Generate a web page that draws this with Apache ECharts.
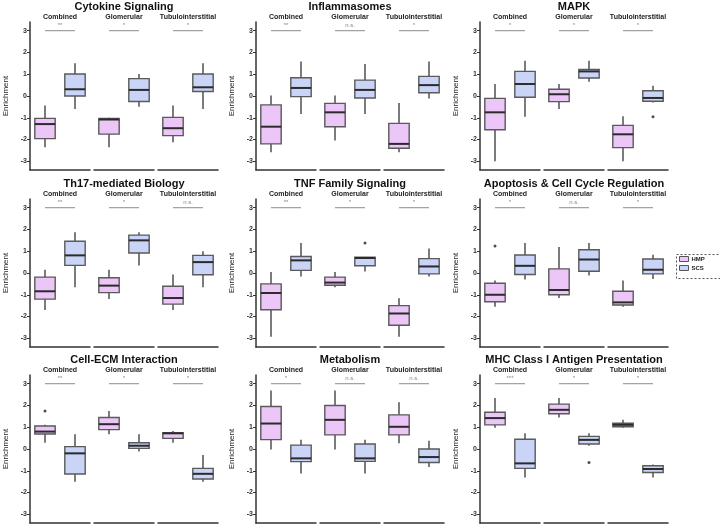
<!DOCTYPE html>
<html style="height: 100%">
<head>
<meta charset="utf-8">
<script src="https://cdn.jsdelivr.net/npm/echarts@6/dist/echarts.min.js"></script>
</head>
<body style="height: 100%; margin: 0; background: #fff">
<div id="container" style="width: 720px; height: 526px"></div>
<script type="text/javascript">
// panel titles, facets, groups
var panelTitles = ['Cytokine Signaling', 'Inflammasomes', 'MAPK',
    'Th17-mediated Biology', 'TNF Family Signaling', 'Apoptosis & Cell Cycle Regulation',
    'Cell-ECM Interaction', 'Metabolism', 'MHC Class I Antigen Presentation'];
var facets = ['Combined', 'Glomerular', 'Tubulointerstitial'];
var groups = ['HMP', 'SCS'];
var yTicks = [-3, -2, -1, 0, 1, 2, 3];

// box stats per facet: [min, q1, median, q3, max]
var cytokineHMP = [[-2.36, -1.96, -1.29, -1.03, -0.44], [-2.36, -1.75, -1.08, -1.03, -1.0], [-2.13, -1.82, -1.48, -0.98, -0.44]];
var cytokineSCS = [[-0.6, 0.0, 0.31, 1.01, 1.5], [-0.49, -0.25, 0.28, 0.8, 1.01], [-0.6, 0.21, 0.4, 1.01, 1.5]];
var inflamHMP = [[-2.59, -2.2, -1.41, -0.41, 0.02], [-2.05, -1.41, -0.75, -0.34, 0.02], [-2.59, -2.4, -2.2, -1.26, -0.32]];
var inflamSCS = [[-0.83, -0.03, 0.37, 0.84, 1.58], [-0.83, -0.09, 0.28, 0.73, 1.47], [-0.11, 0.15, 0.5, 0.9, 1.58]];
var mapkHMP = [[-3.0, -1.55, -0.75, -0.11, 0.55], [-0.6, -0.26, 0.08, 0.31, 0.55], [-3.0, -2.37, -1.76, -1.35, -0.93]];
var mapkSCS = [[-0.95, -0.06, 0.55, 1.13, 1.62], [0.66, 0.83, 1.13, 1.22, 1.62], [-0.3, -0.24, -0.09, 0.24, 0.47]];
var th17HMP = [[-1.7, -1.2, -0.84, -0.19, 0.15], [-1.2, -0.9, -0.58, -0.22, 0.15], [-1.7, -1.43, -1.15, -0.61, -0.07]];
var th17SCS = [[-0.66, 0.35, 0.81, 1.46, 1.87], [0.35, 0.92, 1.5, 1.74, 1.87], [-0.66, -0.08, 0.5, 0.81, 1.0]];
var tnfHMP = [[-2.93, -1.69, -0.92, -0.5, 0.05], [-0.66, -0.56, -0.44, -0.19, 0.05], [-2.93, -2.4, -1.86, -1.5, -1.16]];
var tnfSCS = [[-0.16, 0.12, 0.58, 0.76, 1.38], [0.07, 0.33, 0.69, 0.73, 0.73], [-0.16, -0.04, 0.3, 0.66, 1.12]];
var apopHMP = [[-1.55, -1.32, -1.0, -0.47, -0.35], [-1.15, -1.0, -0.78, 0.19, 1.19], [-1.55, -1.47, -1.35, -0.84, -0.35]];
var apopSCS = [[-0.3, -0.07, 0.33, 0.83, 1.38], [-0.12, 0.08, 0.62, 1.07, 1.38], [-0.27, -0.04, 0.15, 0.64, 0.84]];
var ecmHMP = [[0.29, 0.69, 0.8, 1.06, 1.11], [0.68, 0.89, 1.14, 1.45, 1.75], [0.29, 0.49, 0.72, 0.75, 0.83]];
var ecmSCS = [[-1.51, -1.15, -0.2, 0.11, 0.68], [-0.12, 0.03, 0.15, 0.29, 0.68], [-1.51, -1.38, -1.14, -0.89, -0.28]];
var metabHMP = [[-0.02, 0.43, 1.17, 1.95, 2.69], [-0.02, 0.65, 1.34, 2.0, 2.69], [0.26, 0.65, 1.02, 1.57, 2.15]];
var metabSCS = [[-1.12, -0.58, -0.43, 0.18, 0.42], [-1.12, -0.57, -0.43, 0.23, 0.42], [-0.83, -0.62, -0.37, 0.0, 0.38]];
var mhcHMP = [[0.98, 1.11, 1.42, 1.69, 2.34], [1.45, 1.62, 1.8, 2.06, 2.34], [0.98, 1.02, 1.11, 1.18, 1.34]];
var mhcSCS = [[-1.31, -0.89, -0.66, 0.45, 0.72], [0.15, 0.23, 0.42, 0.58, 0.72], [-1.31, -1.08, -0.92, -0.77, -0.71]];

// outliers: [panel, facet, group, value]
var outliers = [[2, 2, 1, -0.95], [4, 1, 1, 1.38], [5, 0, 0, 1.24], [6, 0, 0, 1.75], [8, 1, 1, -0.62]];

// significance label per panel / facet
var significance = [['**', '*', '*'], ['**', 'n.s.', '*'], ['*', '*', '*'],
    ['**', '*', 'n.s.'], ['**', '*', '*'], ['*', 'n.s.', '*'],
    ['**', '*', '*'], ['*', 'n.s.', 'n.s.'], ['***', '*', '*']];

var hmpStats = [cytokineHMP, inflamHMP, mapkHMP, th17HMP, tnfHMP, apopHMP, ecmHMP, metabHMP, mhcHMP];
var scsStats = [cytokineSCS, inflamSCS, mapkSCS, th17SCS, tnfSCS, apopSCS, ecmSCS, metabSCS, mhcSCS];

var font = 'Liberation Sans, Arial, sans-serif';
var colors = {HMP: '#ecc6f7', SCS: '#c9d4f6'};
var colLeft = [30, 256, 480];
var rowTop = [22, 199, 375];
var facetW = 60, facetStep = 64, gridH = 148;
var xPos = [0.25, 0.75];

function renderBox(params, api) {
    var x = api.value(0);
    var lo = api.coord([x, api.value(1)]);
    var q1 = api.coord([x, api.value(2)]);
    var md = api.coord([x, api.value(3)]);
    var q3 = api.coord([x, api.value(4)]);
    var hi = api.coord([x, api.value(5)]);
    var w = api.size([0.34, 0])[0];
    var cx = lo[0];
    return {
        type: 'group',
        children: [
            {type: 'line', shape: {x1: cx, y1: lo[1], x2: cx, y2: q1[1]}, style: {stroke: '#444', lineWidth: 1.4}},
            {type: 'line', shape: {x1: cx, y1: q3[1], x2: cx, y2: hi[1]}, style: {stroke: '#444', lineWidth: 1.4}},
            {type: 'rect', shape: {x: cx - w / 2, y: q3[1], width: w, height: q1[1] - q3[1]},
                style: {fill: api.visual('color'), stroke: '#5a5a5a', lineWidth: 1.4}},
            {type: 'line', shape: {x1: cx - w / 2, y1: md[1], x2: cx + w / 2, y2: md[1]}, style: {stroke: '#2b2b2b', lineWidth: 2}}
        ]
    };
}

var grids = [], xAxes = [], yAxes = [], series = [], titles = [];

for (var p = 0; p < 9; p++) {
    var col = p % 3, row = Math.floor(p / 3);
    var left0 = colLeft[col], top0 = rowTop[row];
    titles.push({
        text: panelTitles[p], left: left0 + (facetStep * 2 + facetW) / 2, top: top0 - 21,
        textAlign: 'center', padding: 0,
        textStyle: {fontFamily: font, fontSize: 11, fontWeight: 'bold', color: '#111'}
    });
    for (var f = 0; f < 3; f++) {
        var gi = grids.length;
        var gl = left0 + f * facetStep;
        grids.push({left: gl, top: top0, width: facetW, height: gridH});
        titles.push({
            text: facets[f], left: gl + facetW / 2, top: top0 - 8, textAlign: 'center', padding: 0,
            textStyle: {fontFamily: font, fontSize: 7, fontWeight: 'bold', color: '#222'}
        });
        xAxes.push({
            type: 'value', gridIndex: gi, min: 0, max: 1,
            axisLine: {show: true, onZero: false, lineStyle: {color: '#333', width: 1.5}},
            axisTick: {show: false}, axisLabel: {show: false}, splitLine: {show: false}
        });
        yAxes.push({
            type: 'value', gridIndex: gi, min: -3.4, max: 3.4, show: f === 0,
            name: f === 0 ? 'Enrichment' : '', nameLocation: 'middle', nameGap: 20,
            nameTextStyle: {fontFamily: font, fontSize: 8, color: '#222'},
            axisLine: {show: true, onZero: false, lineStyle: {color: '#333', width: 1.5}},
            axisTick: {show: true, length: 3, customValues: yTicks, lineStyle: {color: '#333'}},
            axisLabel: {show: true, margin: 3, customValues: yTicks, fontFamily: font, fontSize: 7, fontWeight: 'bold', color: '#333'},
            splitLine: {show: false}
        });
        for (var g = 0; g < 2; g++) {
            var s = (g === 0 ? hmpStats : scsStats)[p][f];
            series.push({
                type: 'custom', name: groups[g], xAxisIndex: gi, yAxisIndex: gi,
                itemStyle: {color: colors[groups[g]]},
                renderItem: renderBox,
                data: [[xPos[g]].concat(s)],
                silent: true
            });
        }
        // significance bar
        series.push({
            type: 'line', xAxisIndex: gi, yAxisIndex: gi, symbol: 'none', silent: true,
            lineStyle: {color: '#8c8c8c', width: 1},
            data: [[xPos[0], 3], [xPos[1], 3]]
        });
        series.push({
            type: 'scatter', xAxisIndex: gi, yAxisIndex: gi, symbolSize: 0, silent: true,
            label: {show: true, position: 'top', distance: 2, formatter: significance[p][f],
                fontFamily: font, fontSize: 6, color: '#666'},
            data: [[0.5, 3]]
        });
        var pts = outliers.filter(function (o) { return o[0] === p && o[1] === f; })
            .map(function (o) { return [xPos[o[2]], o[3]]; });
        if (pts.length) {
            series.push({
                type: 'scatter', xAxisIndex: gi, yAxisIndex: gi, symbolSize: 3, silent: true,
                itemStyle: {color: '#222'}, data: pts
            });
        }
    }
}

var myChart = echarts.init(document.getElementById('container'));
myChart.setOption({
    animation: false,
    title: titles,
    grid: grids,
    xAxis: xAxes,
    yAxis: yAxes,
    legend: {
        data: groups, orient: 'vertical', left: 679, top: 256, itemWidth: 9, itemHeight: 5, itemGap: 3,
        icon: 'rect', padding: 0, selectedMode: false,
        itemStyle: {borderColor: '#555', borderWidth: 1},
        textStyle: {fontFamily: font, fontSize: 6, fontWeight: 'bold', color: '#222', padding: [0, 0, 0, -2]}
    },
    graphic: [{
        type: 'rect', left: 674, top: 252, shape: {width: 44, height: 24},
        style: {fill: 'none', stroke: '#555', lineWidth: 1, lineDash: [2, 2]}
    }],
    series: series
});
window.onresize = myChart.resize;
</script>
</body>
</html>
